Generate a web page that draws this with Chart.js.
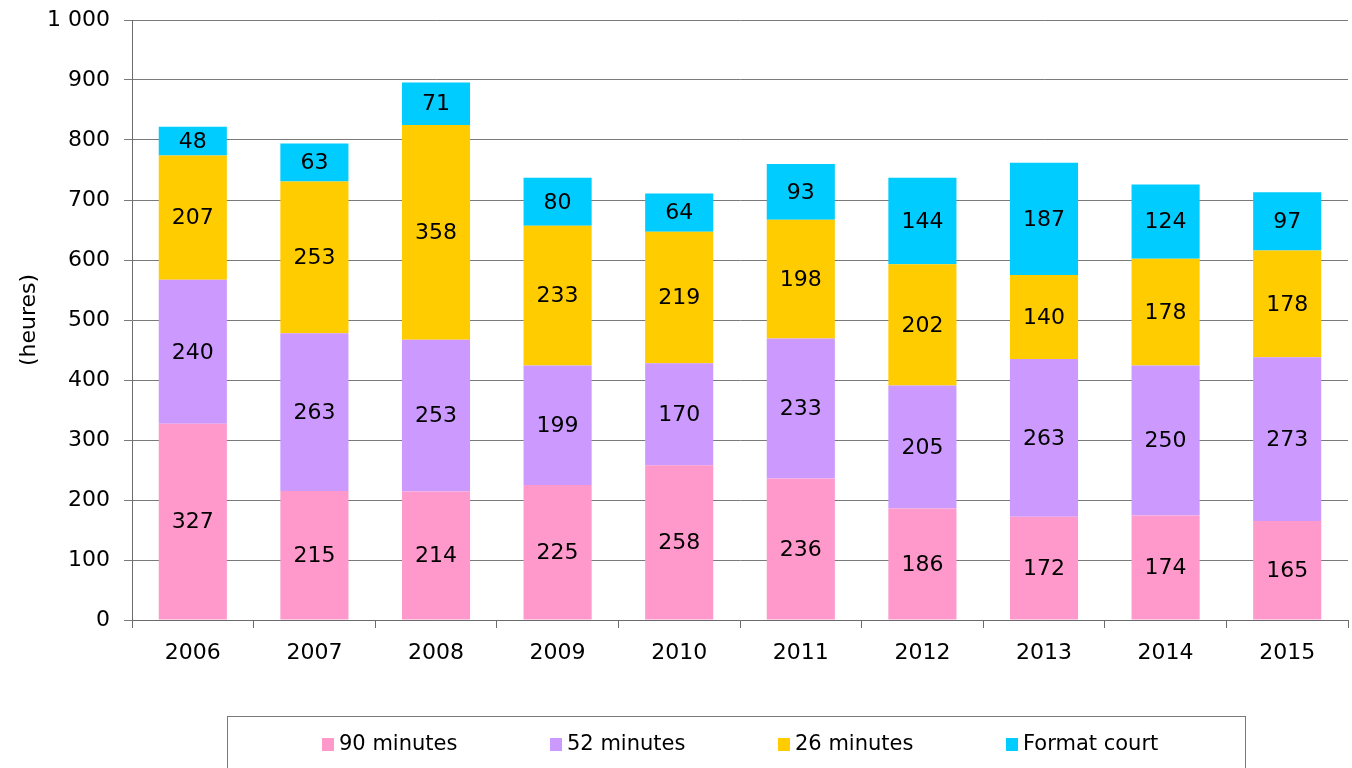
<!DOCTYPE html>
<html>
<head>
<meta charset="utf-8">
<script src="https://cdn.jsdelivr.net/npm/chart.js@4/dist/chart.umd.min.js"></script>
<style>
  html, body { margin: 0; padding: 0; background: #fff; }
</style>
</head>
<body>
<canvas id="chart" width="1352" height="768"></canvas>
<script>
// Data
const years = ['2006', '2007', '2008', '2009', '2010', '2011', '2012', '2013', '2014', '2015'];
const min90 = [327, 215, 214, 225, 258, 236, 186, 172, 174, 165];
const min52 = [240, 263, 253, 199, 170, 233, 205, 263, 250, 273];
const min26 = [207, 253, 358, 233, 219, 198, 202, 140, 178, 178];
const formatCourt = [48, 63, 71, 80, 64, 93, 144, 187, 124, 97];
const seriesNames = ['90 minutes', '52 minutes', '26 minutes', 'Format court'];
const seriesColors = ['#FF99CC', '#CC99FF', '#FFCC00', '#00CCFF'];

const FONT = 'DejaVu Sans';

// Numbers with a space as thousands separator ("1 000")
function frNumber(v) {
    return String(v).replace(/\B(?=(\d{3})+(?!\d))/g, ' ');
}

// Value labels in the middle of each segment
const segmentLabels = {
    id: 'segmentLabels',
    afterDatasetsDraw(chart) {
        const ctx = chart.ctx;
        ctx.save();
        ctx.font = '22px "' + FONT + '"';
        ctx.fillStyle = '#000';
        ctx.textAlign = 'center';
        ctx.textBaseline = 'middle';
        chart.data.datasets.forEach((ds, i) => {
            chart.getDatasetMeta(i).data.forEach((bar, j) => {
                const y = (bar.y + bar.base) / 2;
                ctx.fillText(String(ds.data[j]), bar.x, y + 1);
            });
        });
        ctx.restore();
    }
};

// Boxed legend under the chart
const boxedLegend = {
    id: 'boxedLegend',
    afterDraw(chart) {
        const ctx = chart.ctx;
        ctx.save();
        ctx.strokeStyle = '#7a7a7a';
        ctx.lineWidth = 1;
        ctx.strokeRect(227.5, 716.5, 1018, 70);
        ctx.font = '21px "' + FONT + '"';
        ctx.textAlign = 'left';
        ctx.textBaseline = 'middle';
        chart.data.datasets.forEach((ds, i) => {
            const x = 322 + i * 228;
            ctx.fillStyle = ds.backgroundColor;
            ctx.fillRect(x, 738, 12, 13);
            ctx.fillStyle = '#000';
            ctx.fillText(ds.label, x + 17, 745);
        });
        ctx.restore();
    }
};

const seriesData = [min90, min52, min26, formatCourt];

new Chart(document.getElementById('chart'), {
    type: 'bar',
    data: {
        labels: years,
        datasets: seriesNames.map((name, i) => ({
            label: name,
            data: seriesData[i],
            backgroundColor: seriesColors[i],
            borderWidth: 0,
            barPercentage: 0.56,
            categoryPercentage: 1
        }))
    },
    options: {
        responsive: false,
        animation: false,
        layout: { padding: { top: 20, right: 4, left: 0, bottom: 0 } },
        plugins: {
            legend: { display: false },
            tooltip: { enabled: false }
        },
        scales: {
            x: {
                stacked: true,
                afterFit: (scale) => { scale.height = 148; },
                grid: {
                    offset: true,
                    drawOnChartArea: false,
                    tickLength: 8,
                    color: '#6b6b6b'
                },
                border: { display: true, color: '#6b6b6b' },
                ticks: {
                    color: '#000',
                    padding: 12,
                    font: { family: FONT, size: 22 }
                }
            },
            y: {
                stacked: true,
                min: 0,
                max: 1000,
                afterFit: (scale) => {
                    scale.width = 132;
                    scale.paddingTop = 0;
                    scale.paddingBottom = 0;
                },
                grid: {
                    tickLength: 8,
                    color: '#7a7a7a'
                },
                border: { display: true, color: '#6b6b6b' },
                ticks: {
                    stepSize: 100,
                    color: '#000',
                    padding: 14,
                    font: { family: FONT, size: 22 },
                    callback: (v) => frNumber(v)
                },
                title: {
                    display: true,
                    text: '(heures)',
                    color: '#000',
                    padding: { top: 16, bottom: 0 },
                    font: { family: FONT, size: 22 }
                }
            }
        }
    },
    plugins: [segmentLabels, boxedLegend]
});
</script>
</body>
</html>
